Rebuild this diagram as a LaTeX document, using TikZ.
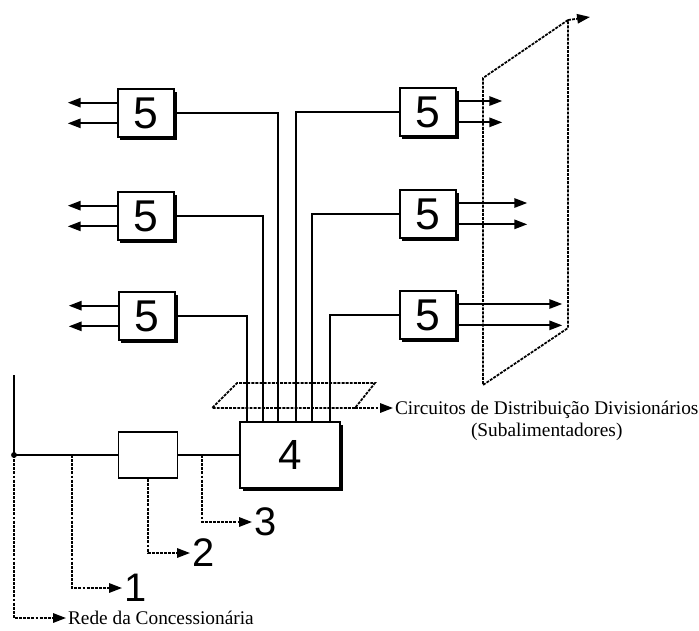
\documentclass[tikz,border=0pt]{standalone}
\usepackage{fontspec}
\setmainfont{Liberation Serif}
\newfontfamily\numfont{Liberation Sans}
\usetikzlibrary{arrows.meta,positioning,shadows}

\begin{document}
\begin{tikzpicture}[x=0.03cm,y=-0.03cm,line width=1.5pt]
            \tikzstyle{box} = [draw, fill=white, inner sep=0pt, minimum width=1.7cm, minimum height=1.44cm, font=\numfont\fontsize{38}{38}\selectfont, drop shadow={shadow xshift=2.2pt, shadow yshift=-2.2pt, opacity=1, fill=black}]
            \tikzstyle{num} = [inner sep=1pt, anchor=west, font=\numfont\fontsize{34}{34}\selectfont]
            \tikzstyle{txt} = [inner sep=1pt, font=\fontsize{16.5}{18}\selectfont]
            \tikzstyle{dots} = [line width=1.5pt, dash pattern=on 2.5pt off 1pt]
            \tikzstyle{arr} = [-{Triangle[length=11pt,width=8pt]}]
            \useasboundingbox (0,0) rectangle (699,630);
            \node[box] (L1) at (146,113) {5};
            \node[box] (L2) at (146,216) {5};
            \node[box] (L3) at (147,316) {5};
            \node[box] (R1) at (428,112) {5};
            \node[box] (R2) at (428,214) {5};
            \node[box] (R3) at (428,315) {5};
            \node[box, minimum width=3cm, minimum height=1.98cm, font=\numfont\fontsize{36}{36}\selectfont] (B4) at (290,455) {4};
            \node[draw, fill=white, minimum width=1.77cm, minimum height=1.38cm] (B) at (148,455) {};
            \coordinate (top) at (14,375);
            \coordinate (J) at (14,455);
            \coordinate (b1) at (72,455);
            \coordinate (b3) at (202,455);
            \fill (J) circle (2.5pt);
            \draw (top) -- (J) -- (B.west);
            \draw (B.east) -- (B4.west);
            \foreach \x [count=\i] in {247,263,278,296,312,330}
                \coordinate (t\i) at (B4.north -| \x,0);
            \draw (L3.east) -| (t1);
            \draw (L2.east) -| (t2);
            \draw (L1.east) -| (t3);
            \draw (R1.west) -| (t4);
            \draw (R2.west) -| (t5);
            \draw (R3.west) -| (t6);
            \foreach \n in {L1,L2,L3} {
                \draw[arr] ([yshift=0.31cm]\n.west) -- ++(-49,0);
                \draw[arr] ([yshift=-0.31cm]\n.west) -- ++(-49,0);
            }
            \foreach \n/\l in {R1/45,R2/70,R3/105} {
                \draw[arr] ([yshift=0.33cm]\n.east) -- ++(\l,0);
                \draw[arr] ([yshift=-0.31cm]\n.east) -- ++(\l,0);
            }
            \coordinate (P1) at (483,78);
            \coordinate (P2) at (568,20);
            \coordinate (P3) at (568,328);
            \coordinate (P4) at (483,385);
            \coordinate (P5) at (590,17);
            \draw[dots] (P2) -- (P1) -- (P4) -- (P3) -- (P2);
            \draw[dots,arr] (P2) -- (P5);
            \coordinate (Q1) at (212,408);
            \coordinate (Q2) at (237,383);
            \coordinate (Q3) at (375,383);
            \coordinate (Q4) at (355,408);
            \draw[dots] (Q4) -- (Q1) -- (Q2) -- (Q3) -- (Q4);
            \node[txt, anchor=west] (circ) at (393,410) {Circuitos de Distribuição Divisionários};
            \node[txt, below=0pt of circ] (sub) {(Subalimentadores)};
            \draw[dots,arr] (Q4) -- (Q4 -| circ.west);
            \node[txt, anchor=west] (rede) at (66,618) {Rede da Concessionária};
            \draw[dots,arr] (J) |- (rede.west);
            \node[num] (n1) at (122,588) {1};
            \draw[dots,arr] (b1) |- (n1.west);
            \node[num] (n2) at (190,553) {2};
            \draw[dots,arr] (B.south) |- (n2.west);
            \node[num] (n3) at (252,522) {3};
            \draw[dots,arr] (b3) |- (n3.west);
        \end{tikzpicture}
\end{document}
